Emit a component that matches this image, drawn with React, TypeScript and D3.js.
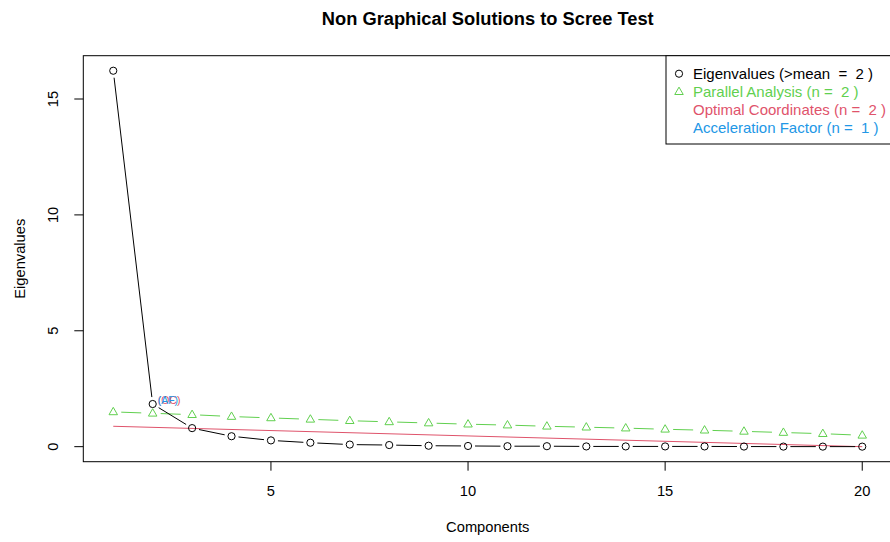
import { useMemo } from 'react';
import * as d3 from 'd3';

const components = d3.range(1, 21);
const eigenvalues = [16.22, 1.84, 0.8, 0.45, 0.27, 0.17, 0.09, 0.07, 0.04, 0.03, 0.02, 0.02, 0.01, 0.01, 0.01, 0.01, 0.005, 0.003, 0.002, 0.001];
const parallel = [1.5, 1.44, 1.38, 1.3, 1.24, 1.18, 1.12, 1.07, 1.02, 0.97, 0.93, 0.88, 0.84, 0.8, 0.75, 0.71, 0.66, 0.61, 0.56, 0.49];
const ocLine = [{ x: 1, y: 0.88 }, { x: 20, y: 0 }];
const xTicks = [5, 10, 15, 20];
const yTicks = [0, 5, 10, 15];
const legendItems = [
  { label: 'Eigenvalues (>mean  =  2 )', color: '#000000', symbol: 'circle' },
  { label: 'Parallel Analysis (n =  2 )', color: '#61D04F', symbol: 'triangle' },
  { label: 'Optimal Coordinates (n =  2 )', color: '#DF536B', symbol: 'none' },
  { label: 'Acceleration Factor (n =  1 )', color: '#2297E6', symbol: 'none' },
];

const W = 890;
const H = 542;
const margin = { left: 83.3, right: 892.2, top: 55.7, bottom: 461.7 };
const FONT = '"Liberation Sans", Arial, Helvetica, sans-serif';

// R-style "type = b": segments between points with a gap around each point
function gappedSegments(pts: [number, number][], gap: number) {
  const segs: [number, number, number, number][] = [];
  for (let i = 0; i < pts.length - 1; i++) {
    const [x1, y1] = pts[i];
    const [x2, y2] = pts[i + 1];
    const dx = x2 - x1, dy = y2 - y1;
    const len = Math.sqrt(dx * dx + dy * dy);
    if (len <= 2 * gap) continue;
    const ux = dx / len, uy = dy / len;
    segs.push([x1 + ux * gap, y1 + uy * gap, x2 - ux * gap, y2 - uy * gap]);
  }
  return segs;
}

function triPath(cx: number, cy: number, s: number) {
  const h = s * 0.87;
  return `M${cx},${cy - h * 0.62}L${cx + s / 2},${cy + h * 0.38}L${cx - s / 2},${cy + h * 0.38}Z`;
}

export default function App() {
  const { x, y } = useMemo(() => {
    const xr = [1, 20];
    const pad = (xr[1] - xr[0]) * 0.04;
    const ymax = d3.max(eigenvalues) as number;
    const ypad = ymax * 0.04;
    return {
      x: d3.scaleLinear().domain([xr[0] - pad, xr[1] + pad]).range([margin.left, margin.right]),
      y: d3.scaleLinear().domain([-ypad, ymax + ypad]).range([margin.bottom, margin.top]),
    };
  }, []);

  const eigPts = components.map((c, i) => [x(c), y(eigenvalues[i])] as [number, number]);
  const parPts = components.map((c, i) => [x(c), y(parallel[i])] as [number, number]);
  const ocPath = d3.line<{ x: number; y: number }>().x(d => x(d.x)).y(d => y(d.y))(ocLine) || '';

  const legX = 666;
  const legTop = margin.top;
  const legStep = 18;

  return (
    <svg width={W} height={H} style={{ position: 'absolute', left: 0, top: 0, background: '#fff' }} fontFamily={FONT}>
      <rect x={0} y={0} width={W} height={H} fill="#fff" />
      <text x={(margin.left + margin.right) / 2} y={25} textAnchor="middle" fontSize={18.3} fontWeight="bold">
        Non Graphical Solutions to Scree Test
      </text>

      {/* plot frame */}
      <rect x={margin.left} y={margin.top} width={margin.right - margin.left} height={margin.bottom - margin.top} fill="none" stroke="#000" strokeWidth={1} />

      {/* x axis */}
      {xTicks.map(t => (
        <g key={`x${t}`}>
          <line x1={x(t)} x2={x(t)} y1={margin.bottom} y2={margin.bottom + 9} stroke="#000" />
          <text x={x(t)} y={496} textAnchor="middle" fontSize={14.7}>{t}</text>
        </g>
      ))}
      <text x={(margin.left + margin.right) / 2} y={532} textAnchor="middle" fontSize={14.7}>Components</text>

      {/* y axis */}
      {yTicks.map(t => (
        <g key={`y${t}`}>
          <line x1={margin.left - 9} x2={margin.left} y1={y(t)} y2={y(t)} stroke="#000" />
          <text transform={`translate(58,${y(t)}) rotate(-90)`} textAnchor="middle" fontSize={14.7}>{t}</text>
        </g>
      ))}
      <text transform={`translate(25,${(margin.top + margin.bottom) / 2}) rotate(-90)`} textAnchor="middle" fontSize={14.7}>Eigenvalues</text>

      {/* optimal coordinates line */}
      <path d={ocPath} fill="none" stroke="#DF536B" strokeWidth={1} />

      {/* parallel analysis */}
      {gappedSegments(parPts, 8).map((s, i) => (
        <line key={`ps${i}`} x1={s[0]} y1={s[1]} x2={s[2]} y2={s[3]} stroke="#61D04F" strokeDasharray="20 6" />
      ))}
      {parPts.map((p, i) => (
        <path key={`pt${i}`} d={triPath(p[0], p[1], 8.5)} fill="none" stroke="#61D04F" strokeWidth={1} />
      ))}

      {/* eigenvalues */}
      {gappedSegments(eigPts, 7).map((s, i) => (
        <line key={`es${i}`} x1={s[0]} y1={s[1]} x2={s[2]} y2={s[3]} stroke="#000" />
      ))}
      {eigPts.map((p, i) => (
        <circle key={`ec${i}`} cx={p[0]} cy={p[1]} r={3.6} fill="none" stroke="#000" strokeWidth={1} />
      ))}

      {/* OC / AF labels (drawn on the same spot, as in the original) */}
      <text x={eigPts[1][0] + 5} y={eigPts[1][1]} fontSize={10.5} fill="#DF536B">(OC)</text>
      <text x={eigPts[1][0] + 5} y={eigPts[1][1]} fontSize={10.5} fill="#2297E6">(AF)</text>

      {/* legend */}
      <rect x={legX} y={legTop} width={W - legX + 10} height={144 - legTop} fill="#fff" stroke="#000" />
      {legendItems.map((d, i) => {
        const cy = legTop + 18 + i * legStep;
        return (
          <g key={d.label}>
            {d.symbol === 'circle' && <circle cx={679} cy={cy} r={3.6} fill="none" stroke={d.color} />}
            {d.symbol === 'triangle' && <path d={triPath(679, cy, 8.5)} fill="none" stroke={d.color} />}
            <text x={693} y={cy + 5.5} fontSize={15} fill={d.color} style={{ whiteSpace: 'pre' }}>{d.label}</text>
          </g>
        );
      })}
    </svg>
  );
}
